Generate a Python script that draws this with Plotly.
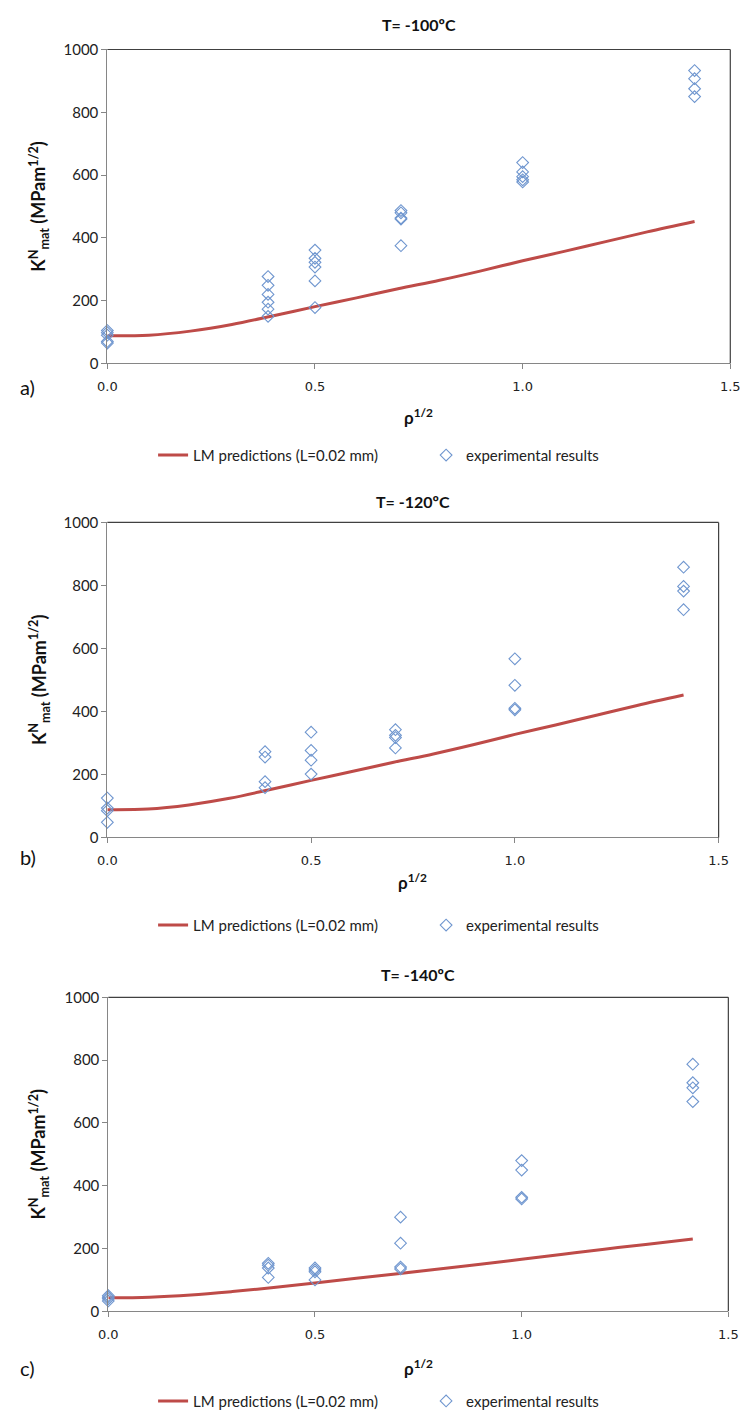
import plotly.graph_objects as go

# ---- data ----
panel_titles = ["T= -100ºC", "T= -120ºC", "T= -140ºC"]
panel_tags = ["a)", "b)", "c)"]

x_ticks = [0.0, 0.5, 1.0, 1.5]
y_ticks = [0, 200, 400, 600, 800, 1000]

# LM prediction curves
lm_x = [0.0, 0.1, 0.2, 0.3, 0.4, 0.5, 0.6, 0.7, 0.8, 0.9, 1.0, 1.1, 1.2, 1.3, 1.414]
lm_a = [88, 90, 103, 124, 152, 181, 209, 238, 265, 295, 327, 357, 388, 419, 452]
lm_b = [88, 90, 103, 124, 152, 181, 209, 238, 265, 295, 327, 357, 388, 419, 452]
lm_c = [43, 45, 52, 63, 76, 90, 105, 120, 135, 150, 166, 182, 198, 213, 230]

# experimental results
exp_a_x = [0, 0, 0, 0, 0,
           0.387, 0.387, 0.387, 0.387, 0.387, 0.387,
           0.5, 0.5, 0.5, 0.5, 0.5, 0.5,
           0.707, 0.707, 0.707, 0.707, 0.707,
           1.0, 1.0, 1.0, 1.0, 1.0,
           1.414, 1.414, 1.414, 1.414]
exp_a_y = [105, 98, 90, 70, 65,
           277, 249, 220, 195, 173, 150,
           361, 335, 322, 307, 263, 178,
           487, 480, 463, 460, 375,
           640, 610, 595, 585, 578,
           933, 907, 875, 850]

exp_b_x = [0, 0, 0, 0,
           0.387, 0.387, 0.387, 0.387,
           0.5, 0.5, 0.5, 0.5,
           0.707, 0.707, 0.707, 0.707,
           1.0, 1.0, 1.0, 1.0,
           1.414, 1.414, 1.414, 1.414]
exp_b_y = [125, 93, 85, 48,
           272, 255, 177, 158,
           334, 276, 245, 201,
           342, 324, 317, 284,
           567, 483, 410, 405,
           858, 797, 782, 723]

exp_c_x = [0, 0, 0, 0,
           0.387, 0.387, 0.387, 0.387,
           0.5, 0.5, 0.5, 0.5,
           0.707, 0.707, 0.707, 0.707,
           1.0, 1.0, 1.0, 1.0,
           1.414, 1.414, 1.414, 1.414]
exp_c_y = [50, 45, 40, 33,
           153, 147, 138, 108,
           138, 132, 126, 100,
           300, 217, 141, 135,
           480, 450, 363, 358,
           787, 728, 712, 668]

lm_name = "LM predictions (L=0.02 mm)"
exp_name = "experimental results"

# ---- layout geometry (pixels) ----
W, H = 751, 1423
# (x_left, x_right, y_top, y_bottom) of plot areas
areas = [(100, 740, 40, 358), (100, 728, 519, 838), (101, 738, 1000, 1318)]
title_y = [15, 498, 977]
xtitle_y = [412, 883, 1375]
tag_y = [382, 858, 1375]
legend_y = [451, 927, 1409]

RED = "#BE4B48"
BLUE = "#6F96CF"
AXIS_GRAY = "#868686"

fig = go.Figure()

lms = [lm_a, lm_b, lm_c]
exps = [(exp_a_x, exp_a_y), (exp_b_x, exp_b_y), (exp_c_x, exp_c_y)]
legends = ["legend", "legend2", "legend3"]

for i in range(3):
    sx = "" if i == 0 else str(i + 1)
    fig.add_trace(go.Scatter(
        x=lm_x, y=lms[i], mode="lines", name=lm_name,
        line=dict(color=RED, width=3, shape="spline", smoothing=1.0),
        xaxis="x" + sx, yaxis="y" + sx, legend=legends[i], cliponaxis=False,
    ))
    fig.add_trace(go.Scatter(
        x=exps[i][0], y=exps[i][1], mode="markers", name=exp_name,
        marker=dict(symbol="diamond-open", size=9, color=BLUE, line=dict(width=1.1, color=BLUE)),
        xaxis="x" + sx, yaxis="y" + sx, legend=legends[i], cliponaxis=False,
    ))

layout = dict(
    width=W, height=H,
    margin=dict(l=0, r=0, t=0, b=0),
    paper_bgcolor="white", plot_bgcolor="white",
    showlegend=True,
    annotations=[], shapes=[],
)

for i, (xl, xr, yt, yb) in enumerate(areas):
    sx = "" if i == 0 else str(i + 1)
    xdom = [xl / W, xr / W]
    ydom = [1 - yb / H, 1 - yt / H]
    layout["xaxis" + sx] = dict(
        domain=xdom, range=[0, 1.5], anchor="y" + sx,
        tickvals=x_ticks, tickformat=".1f",
        showgrid=False, zeroline=False,
        showline=True, linecolor=AXIS_GRAY, linewidth=1,
        ticks="outside", ticklen=5, tickcolor=AXIS_GRAY,
        tickfont=dict(family="DejaVu Sans", size=13, color="#222"),
        ticklabelstandoff=6,
    )
    layout["yaxis" + sx] = dict(
        domain=ydom, range=[0, 1000], anchor="x" + sx,
        tickvals=y_ticks,
        showgrid=False, zeroline=False,
        showline=True, linecolor=AXIS_GRAY, linewidth=1,
        ticks="outside", ticklen=5, tickcolor=AXIS_GRAY,
        tickfont=dict(family="Lato", size=15, color="#222"),
    )
    # plot area border (top & right)
    layout["shapes"].append(dict(type="line", xref="x" + sx + " domain", yref="y" + sx + " domain",
                                 x0=0, x1=1, y0=1, y1=1, line=dict(color="#404040", width=1.2)))
    layout["shapes"].append(dict(type="line", xref="x" + sx + " domain", yref="y" + sx + " domain",
                                 x0=1, x1=1, y0=0, y1=1, line=dict(color="#404040", width=1.2)))
    cx = (xl + xr) / 2 / W
    # panel title
    layout["annotations"].append(dict(
        text="<b>" + panel_titles[i] + "</b>", xref="paper", yref="paper",
        x=cx, y=1 - title_y[i] / H, xanchor="center", yanchor="middle",
        showarrow=False, font=dict(family="Lato", size=16, color="#111")))
    # y title
    layout["annotations"].append(dict(
        text="<b>K<sup>N</sup><sub>mat</sub> (MPam<sup>1/2</sup>)</b>", xref="paper", yref="paper",
        x=30 / W, y=1 - (yt + yb) / 2 / H, xanchor="center", yanchor="middle", textangle=-90,
        showarrow=False, font=dict(family="Lato", size=18, color="#111")))
    # x title
    layout["annotations"].append(dict(
        text="<b>ρ<sup>1/2</sup></b>", xref="paper", yref="paper",
        x=cx, y=1 - xtitle_y[i] / H, xanchor="center", yanchor="middle",
        showarrow=False, font=dict(family="Lato", size=17, color="#111")))
    # panel tag
    layout["annotations"].append(dict(
        text=panel_tags[i], xref="paper", yref="paper",
        x=18 / W, y=1 - tag_y[i] / H, xanchor="center", yanchor="middle",
        showarrow=False, font=dict(family="Lato", size=20, color="#111")))
    # legend
    layout[legends[i]] = dict(
        orientation="h", x=147 / W, y=1 - legend_y[i] / H,
        xanchor="left", yanchor="middle",
        bgcolor="rgba(0,0,0,0)", borderwidth=0,
        font=dict(family="Lato", size=15, color="#222"),
        entrywidth=228, entrywidthmode="pixels",
        itemwidth=30,
    )

fig.update_layout(**layout)
fig.write_html("out.html")
